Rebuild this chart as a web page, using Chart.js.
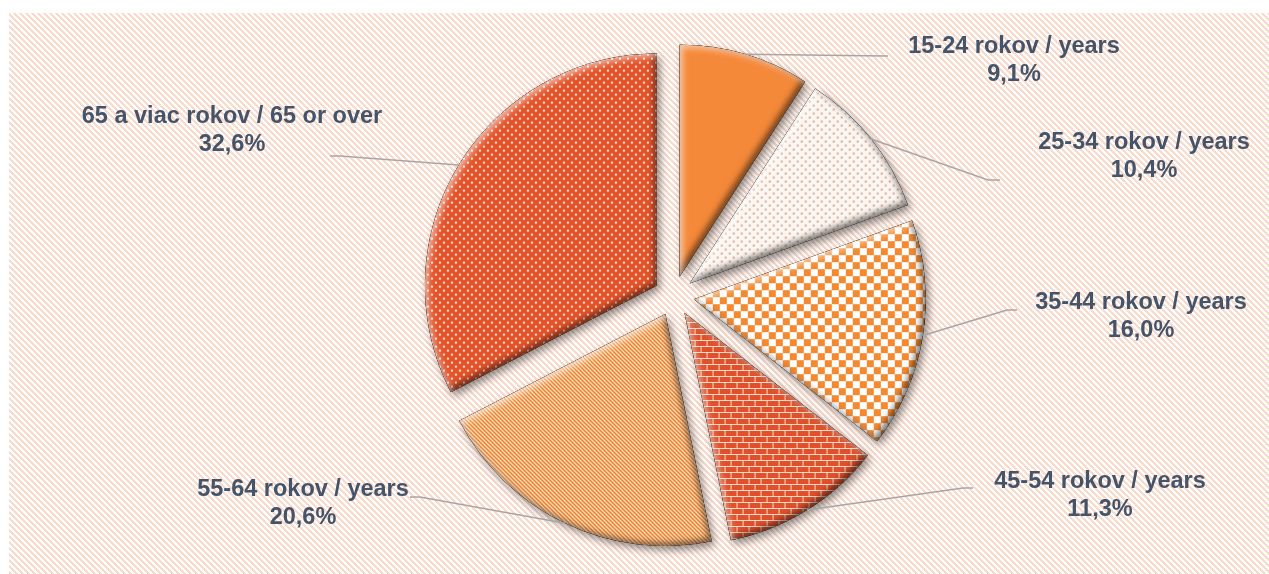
<!DOCTYPE html>
<html>
<head>
<meta charset="utf-8">
<script src="https://cdn.jsdelivr.net/npm/chart.js@4"></script>
<style>
  body { margin: 0; background: #fff; }
  #wrap { width: 1269px; height: 574px; position: relative; }
</style>
</head>
<body>
<div id="wrap"><canvas id="ageChart"></canvas></div>
<script>
// ============ Data ============
const categories = [
  "15-24 rokov / years",
  "25-34 rokov / years",
  "35-44 rokov / years",
  "45-54 rokov / years",
  "55-64 rokov / years",
  "65 a viac rokov / 65 or over"
];
const shares = [9.1, 10.4, 16.0, 11.3, 20.6, 32.6];

// ============ Layout (label text centre, leader elbow, leader end) ============
const labelText = [[1014, 47], [1144, 143], [1141, 303], [1100, 482], [303, 490], [232, 117]];
const leaderElbow = [[886, 56], [988, 180], [1007, 310], [963, 488], [420, 497], [340, 156]];
const leaderEnd = [[888, 56], [1000, 180], [1017, 310], [973, 488], [410, 497], [330, 156]];
const EXPLODE = 20;
const RADIUS = 232;
const TEXT_COLOR = "#44546A";

// ============ Patterns ============
function makePattern(w, h, paint) {
  const c = document.createElement("canvas");
  c.width = w; c.height = h;
  const g = c.getContext("2d");
  paint(g, w, h);
  return g.createPattern(c, "repeat");
}

function stripes(period, on, fg, bg) {
  return makePattern(period, period, (g, w, h) => {
    g.fillStyle = bg; g.fillRect(0, 0, w, h);
    g.fillStyle = fg;
    for (let y = 0; y < h; y++)
      for (let x = 0; x < w; x++)
        if ((((x - y) % period) + period) % period < on) g.fillRect(x, y, 1, 1);
  });
}

const bgPattern = stripes(6, 3, "#FADACA", "#FFFFFF");

const slicePatterns = [
  "#F5893A",
  makePattern(8, 8, (g) => {
    g.fillStyle = "#FBF6F1"; g.fillRect(0, 0, 8, 8);
    g.fillStyle = "#EBA47E"; g.fillRect(1, 1, 2, 2);
    g.fillStyle = "#D2B09C"; g.fillRect(5, 5, 2, 2);
  }),
  makePattern(14, 14, (g) => {
    g.fillStyle = "#FFFFFF"; g.fillRect(0, 0, 14, 14);
    g.fillStyle = "#F5892F"; g.fillRect(0, 0, 7, 7); g.fillRect(7, 7, 7, 7);
  }),
  makePattern(12, 12, (g) => {
    g.fillStyle = "#F6DCCB"; g.fillRect(0, 0, 12, 12);
    g.fillStyle = "#E0512B";
    g.fillRect(1, 0, 11, 5);
    g.fillRect(0, 6, 6, 5); g.fillRect(7, 6, 5, 5);
  }),
  stripes(4, 2, "#EC7F2E", "#FBDDB6"),
  makePattern(8, 8, (g) => {
    g.fillStyle = "#E4542B"; g.fillRect(0, 0, 8, 8);
    g.fillStyle = "#FBE3D6"; g.fillRect(0, 0, 2, 2); g.fillRect(4, 4, 2, 2);
  })
];

// ============ Plugins ============
const backdrop = {
  id: "backdrop",
  beforeDraw(chart) {
    const ctx = chart.ctx;
    ctx.save();
    ctx.fillStyle = "#FFFFFF";
    ctx.fillRect(0, 0, chart.width, chart.height);
    ctx.fillStyle = bgPattern;
    ctx.fillRect(9, 13, chart.width - 9, chart.height - 13);
    ctx.restore();
  }
};

function slicePath(ctx, arc) {
  ctx.beginPath();
  ctx.moveTo(arc.x, arc.y);
  ctx.arc(arc.x, arc.y, arc.outerRadius, arc.startAngle, arc.endAngle);
  ctx.closePath();
}

function innerShade(ctx, arc, color, dx, dy, blur) {
  ctx.save();
  slicePath(ctx, arc);
  ctx.clip();
  ctx.shadowColor = color;
  ctx.shadowBlur = blur;
  ctx.shadowOffsetX = dx;
  ctx.shadowOffsetY = dy;
  ctx.beginPath();
  ctx.rect(arc.x - 1000, arc.y - 1000, 2000, 2000);
  ctx.moveTo(arc.x, arc.y);
  ctx.arc(arc.x, arc.y, arc.outerRadius, arc.startAngle, arc.endAngle);
  ctx.closePath();
  ctx.fillStyle = "#000";
  ctx.fill("evenodd");
  ctx.restore();
}

const explodedSlices = {
  id: "explodedSlices",
  beforeDatasetDraw(chart, args) {
    const ctx = chart.ctx;
    args.meta.data.forEach((arc) => {
      const mid = (arc.startAngle + arc.endAngle) / 2;
      ctx.save();
      ctx.translate(Math.cos(mid) * EXPLODE, Math.sin(mid) * EXPLODE);
      ctx.save();
      ctx.shadowColor = "rgba(0,0,0,0.45)";
      ctx.shadowBlur = 9;
      ctx.shadowOffsetX = 3;
      ctx.shadowOffsetY = 4;
      arc.draw(ctx);
      ctx.restore();
      innerShade(ctx, arc, "rgba(0,0,0,0.55)", -3, -3, 6);
      innerShade(ctx, arc, "rgba(255,255,255,0.6)", 3, 3, 6);
      ctx.restore();
    });
    return false;
  }
};

const leaderLabels = {
  id: "leaderLabels",
  afterDatasetsDraw(chart) {
    const ctx = chart.ctx;
    const arcs = chart.getDatasetMeta(0).data;
    ctx.save();
    arcs.forEach((arc, i) => {
      const mid = (arc.startAngle + arc.endAngle) / 2;
      const r = arc.outerRadius + EXPLODE;
      ctx.beginPath();
      ctx.moveTo(arc.x + Math.cos(mid) * r, arc.y + Math.sin(mid) * r);
      ctx.lineTo(leaderElbow[i][0], leaderElbow[i][1]);
      ctx.lineTo(leaderEnd[i][0], leaderEnd[i][1]);
      ctx.strokeStyle = "#A6A6A6";
      ctx.lineWidth = 1.5;
      ctx.stroke();

      ctx.fillStyle = TEXT_COLOR;
      ctx.font = "bold 23.5px 'Liberation Sans', Arial, sans-serif";
      ctx.textAlign = "center";
      ctx.textBaseline = "middle";
      const [tx, ty] = labelText[i];
      ctx.fillText(categories[i], tx, ty);
      ctx.fillText(shares[i].toFixed(1).replace(".", ",") + "%", tx, ty + 28);
    });
    ctx.restore();
  }
};

// ============ Chart ============
new Chart(document.getElementById("ageChart").getContext("2d"), {
  type: "pie",
  data: {
    labels: categories,
    datasets: [{
      data: shares,
      backgroundColor: slicePatterns,
      borderWidth: 0,
      radius: RADIUS
    }]
  },
  options: {
    responsive: true,
    maintainAspectRatio: false,
    animation: false,
    layout: { padding: { left: 79, right: 0, top: 18, bottom: 0 } },
    plugins: {
      legend: { display: false },
      tooltip: { enabled: false }
    }
  },
  plugins: [backdrop, explodedSlices, leaderLabels]
});
</script>
</body>
</html>
